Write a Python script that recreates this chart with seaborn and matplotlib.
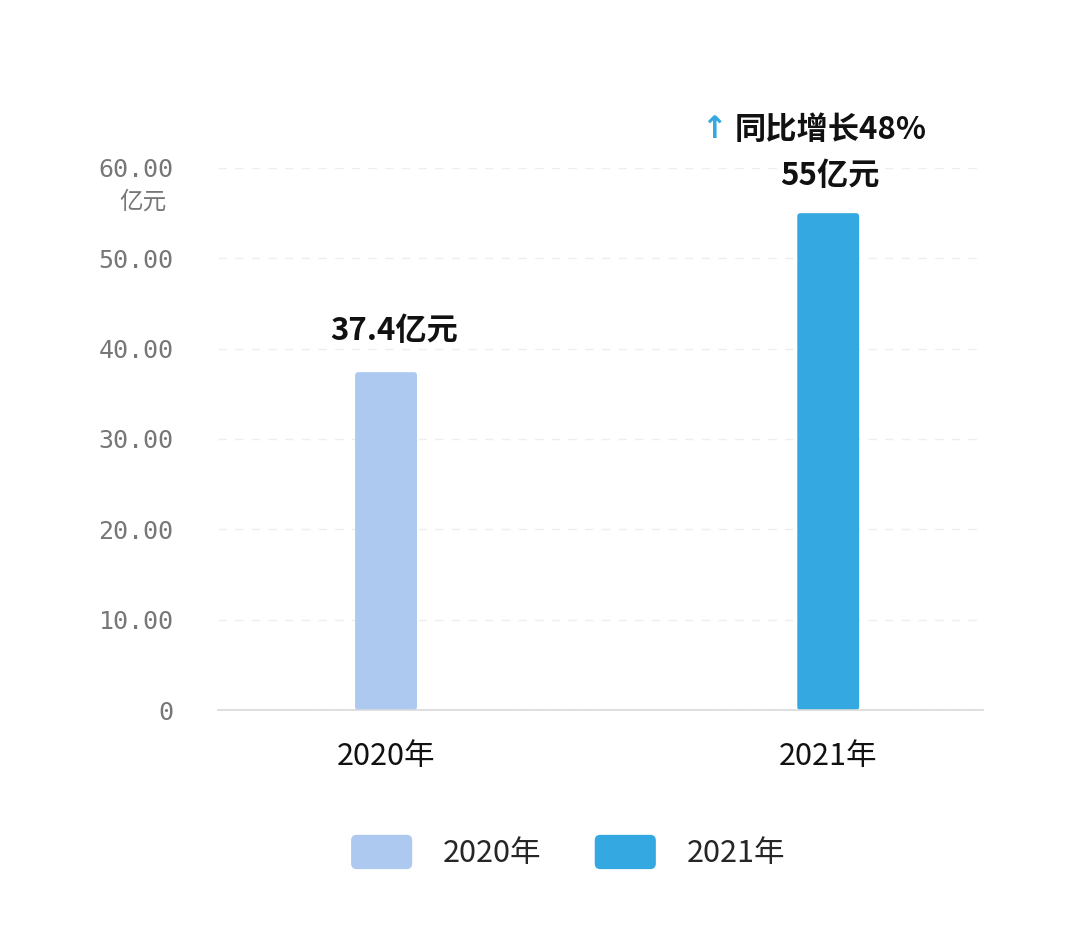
import matplotlib
matplotlib.use("Agg")
import matplotlib.pyplot as plt
import seaborn as sns
import pandas as pd
from matplotlib.patches import Patch, FancyBboxPatch
from matplotlib.legend_handler import HandlerPatch

categories = ["2020年", "2021年"]
values = [37.4, 55]
value_labels = ["37.4亿元", "55亿元"]
colors = ["#adc9f0", "#34a9e1"]
yticks = [0, 10, 20, 30, 40, 50, 60]
ytick_labels = ["0", "10.00", "20.00", "30.00", "40.00", "50.00", "60.00"]
growth_text = "同比增长48%"

sns.set_theme(style="white")
plt.rcParams["font.family"] = ["Noto Sans CJK SC", "DejaVu Sans"]

df = pd.DataFrame({"year": categories, "value": values})

fig = plt.figure(figsize=(10.8, 9.34), dpi=100)
ax = fig.add_axes([218 / 1080, 1 - 710 / 934, (983 - 218) / 1080, (710 - 168) / 934])

sns.barplot(data=df, x="year", y="value", hue="year", palette=colors,
            width=0.14, legend=False, ax=ax, saturation=1)

ax.set_xlim(-0.38, 1.35)
ax.set_ylim(0, 60)

# rounded bar corners
px_x = 765 / 1.73     # pixels per x data unit
px_y = 542 / 60       # pixels per y data unit
for p in list(ax.patches):
    x0, y0 = p.get_x(), p.get_y()
    w, h = p.get_width(), p.get_height()
    fc = p.get_facecolor()
    p.remove()
    fb = FancyBboxPatch((x0, y0), w, h,
                        boxstyle="round,pad=0,rounding_size=%f" % (3 / px_x),
                        mutation_aspect=px_x / px_y,
                        facecolor=fc, edgecolor="none", zorder=2)
    ax.add_patch(fb)

ax.set_yticks(yticks)
ax.set_yticklabels(ytick_labels, family="DejaVu Sans Mono", color="#777777", fontsize=18)
ax.tick_params(axis="y", length=0, pad=32)
ax.tick_params(axis="x", length=0, pad=22, labelsize=22, labelcolor="#111111")
ax.set_xlabel("")
ax.set_ylabel("")

for s in ["top", "right", "left"]:
    ax.spines[s].set_visible(False)
ax.spines["bottom"].set_color("#d9d9d9")
ax.spines["bottom"].set_linewidth(1.2)

ax.yaxis.grid(True, linestyle=(0, (6, 6)), color="#eeeeee", linewidth=1)
ax.set_axisbelow(True)

# unit below top tick
ax.text(-0.55, 56.2, "亿元", ha="center", va="center", fontsize=17, color="#777777",
        clip_on=False)

# value labels
label_y = [42.0, 59.1]
label_x = [0.018, 1.003]
for i, t in enumerate(value_labels):
    ax.text(label_x[i], label_y[i], t, ha="center", va="center", fontsize=22.5,
            color="#111111", fontweight="bold", clip_on=False)

# growth annotation
ax.text(0.742, 64.3, "↑", ha="center", va="center", fontsize=22, color="#34a9e1",
        fontweight="bold", family=["DejaVu Sans"], clip_on=False)
ax.text(1.005, 64.2, growth_text, ha="center", va="center", fontsize=22.5,
        color="#111111", fontweight="bold", clip_on=False)


class RoundHandler(HandlerPatch):
    def create_artists(self, legend, orig_handle, xdescent, ydescent,
                       width, height, fontsize, trans):
        p = FancyBboxPatch((-xdescent, -ydescent), width, height,
                           boxstyle="round,pad=0,rounding_size=4",
                           facecolor=orig_handle.get_facecolor(), edgecolor="none",
                           transform=trans)
        return [p]


handles = [Patch(facecolor=c, edgecolor="none") for c in colors]
fig.legend(handles, categories, loc="center", bbox_to_anchor=(568 / 1080, 1 - 852 / 934),
           ncol=2, frameon=False, fontsize=22, handlelength=2.0, handleheight=1.35,
           handletextpad=1.0, columnspacing=1.75,
           handler_map={Patch: RoundHandler()})

fig.savefig("out.png", dpi=100, facecolor="white")
